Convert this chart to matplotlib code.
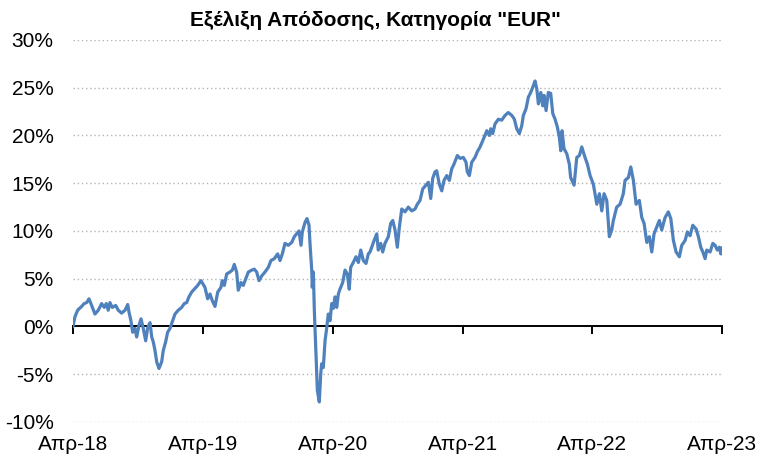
import matplotlib
matplotlib.use("Agg")
import matplotlib.pyplot as plt
import pandas as pd

# months since start of Apr-2018, return in %
months = [0.00, 0.18, 0.43, 0.80, 1.04, 1.27, 1.48, 1.73, 2.03, 2.34, 2.65, 2.89, 3.08, 3.26, 3.42,
          3.63, 3.95, 4.19, 4.50, 4.81, 5.06, 5.18, 5.36, 5.52, 5.73, 5.89, 6.10, 6.29, 6.50, 6.72,
          6.91, 7.12, 7.28, 7.42, 7.58, 7.74, 7.95, 8.20, 8.35, 8.57, 8.75, 8.97, 9.18, 9.43, 9.73,
          10.05, 10.29, 10.51, 10.72, 10.97, 11.21, 11.53, 11.83, 12.20, 12.45, 12.67, 12.88, 13.13,
          13.38, 13.68, 13.80, 13.99, 14.21, 14.51, 14.73, 14.91, 15.13, 15.28, 15.53, 15.74, 15.97,
          16.21, 16.52, 16.76, 16.98, 17.20, 17.45, 17.75, 18.06, 18.30, 18.61, 18.92, 19.14, 19.35,
          19.60, 19.90, 20.22, 20.46, 20.68, 20.89, 21.08, 21.20, 21.45, 21.63, 21.82, 21.91, 22.07,
          22.12, 22.22, 22.31, 22.40, 22.46, 22.59, 22.77, 22.90, 22.99, 23.14, 23.30, 23.46, 23.60,
          23.76, 23.92, 24.07, 24.22, 24.38, 24.53, 24.68, 24.93, 25.15, 25.36, 25.54, 25.67, 25.91,
          26.16, 26.38, 26.60, 26.84, 27.09, 27.30, 27.46, 27.83, 28.08, 28.22, 28.45, 28.63, 28.84,
          29.15, 29.37, 29.56, 29.77, 29.98, 30.17, 30.39, 30.69, 31.00, 31.31, 31.62, 31.83, 32.08,
          32.33, 32.63, 32.85, 33.07, 33.25, 33.47, 33.62, 33.86, 34.09, 34.30, 34.55, 34.79, 35.01,
          35.22, 35.53, 35.78, 36.08, 36.33, 36.45, 36.64, 36.86, 37.16, 37.38, 37.63, 37.93, 38.25,
          38.49, 38.62, 38.80, 39.01, 39.32, 39.63, 39.94, 40.24, 40.56, 40.80, 41.02, 41.26, 41.48,
          41.63, 41.88, 42.09, 42.31, 42.55, 42.71, 42.87, 43.02, 43.24, 43.42, 43.54, 43.73, 43.94,
          44.16, 44.35, 44.56, 44.77, 44.96, 45.09, 45.21, 45.39, 45.64, 45.88, 46.00, 46.32, 46.57,
          46.81, 47.03, 47.33, 47.55, 47.80, 48.10, 48.42, 48.66, 48.88, 49.09, 49.34, 49.58, 49.80,
          49.95, 50.26, 50.57, 50.87, 51.03, 51.34, 51.56, 51.80, 52.05, 52.35, 52.58, 52.79, 53.04,
          53.28, 53.50, 53.71, 53.96, 54.20, 54.42, 54.73, 55.03, 55.26, 55.50, 55.75, 56.05, 56.27,
          56.58, 56.79, 57.04, 57.29, 57.60, 57.81, 58.03, 58.22, 58.43, 58.58, 58.89, 59.14, 59.35,
          59.56, 59.75, 59.88, 60.00]
returns = [0.0, 1.0, 1.7, 2.1, 2.4, 2.5, 2.9, 2.2, 1.3, 1.7, 2.4, 2.0, 2.4, 1.7, 2.5,
           2.0, 2.2, 1.7, 1.4, 1.7, 2.3, 1.5, 0.6, -0.6, -0.2, -1.1, 0.1, 0.8, -0.2, -1.5,
           -0.1, 0.4, -1.1, -1.6, -2.5, -3.7, -4.4, -3.7, -2.5, -1.6, -0.6, -0.2, 0.5, 1.3, 1.7,
           2.0, 2.4, 2.5, 3.1, 3.6, 3.9, 4.3, 4.8, 4.1, 2.9, 3.4, 2.7, 2.1,
           3.6, 4.1, 4.8, 4.3, 5.5, 5.7, 5.9, 6.5, 5.7, 3.8, 4.6, 4.3, 5.0,
           5.7, 5.9, 6.0, 5.7, 4.8, 5.3, 5.7, 6.2, 6.9, 7.1, 7.6, 6.9, 7.6,
           8.7, 8.5, 8.8, 9.4, 9.7, 10.0, 8.5, 9.9, 10.9, 11.3, 10.6, 8.7, 5.9,
           4.1, 5.7, 1.7, -1.0, -2.9, -6.7, -7.9, -5.0, -3.9, -4.3, -1.5, -0.1, 1.3,
           0.6, 2.4, 1.9, 3.1, 2.0, 3.4, 3.9, 4.6, 5.9, 5.5, 3.9, 6.2, 6.7,
           7.3, 6.7, 8.0, 6.9, 6.6, 7.6, 7.8, 9.0, 9.7, 8.0, 8.7, 7.8, 8.7,
           9.4, 10.8, 11.1, 10.1, 8.3, 10.4, 12.3, 12.0, 12.5, 12.1, 12.3, 12.8, 13.2,
           14.4, 14.8, 15.1, 13.4, 15.5, 16.2, 16.3, 14.9, 14.2, 15.3, 15.8, 15.3, 16.5,
           17.0, 17.9, 17.6, 17.7, 17.2, 16.2, 15.8, 17.2, 17.7, 18.3, 18.8, 19.6, 20.5,
           20.0, 20.7, 20.2, 21.2, 21.7, 21.6, 22.1, 22.4, 22.1, 21.7, 20.7, 20.2, 21.0,
           22.1, 22.8, 24.0, 24.5, 25.2, 25.7, 24.9, 23.3, 24.5, 23.1, 24.2, 22.6, 24.5,
           24.4, 22.3, 21.7, 20.9, 19.8, 18.4, 20.5, 18.6, 18.1, 17.0, 15.6, 14.8, 17.7,
           17.9, 18.8, 17.7, 17.0, 15.8, 14.9, 12.8, 13.9, 12.1, 13.9, 13.2, 9.4, 10.1,
           11.1, 12.5, 12.8, 13.9, 15.3, 15.6, 16.7, 15.3, 12.8, 13.2, 11.4, 10.8, 8.8,
           9.4, 7.8, 9.7, 10.4, 11.1, 10.1, 11.4, 12.0, 11.3, 9.0, 7.8, 7.3, 8.5,
           9.0, 9.9, 9.5, 10.6, 10.2, 9.4, 8.3, 7.8, 7.1, 8.0, 7.8, 8.7, 8.5,
           8.0, 8.3, 7.6, 8.2]

tick_labels = ["Απρ-18", "Απρ-19", "Απρ-20", "Απρ-21", "Απρ-22", "Απρ-23"]
y_ticks = [-10, -5, 0, 5, 10, 15, 20, 25, 30]

plt.rcParams["font.family"] = ["Liberation Sans", "DejaVu Sans"]

start = pd.Timestamp("2018-04-01")
dates = [start + pd.Timedelta(days=m * 30.4375) for m in months]
tick_dates = pd.date_range(start, periods=len(tick_labels), freq="12MS")

fig = plt.figure(figsize=(7.6, 4.57), dpi=100)
ax = fig.add_axes([0.096, 0.0766, 0.854, 0.836])

ax.plot(dates, returns, color="#4F81BD", linewidth=2.3, solid_joinstyle="round")

ax.set_xlim(tick_dates[0], tick_dates[-1])
ax.set_ylim(-10, 30)
ax.set_yticks(y_ticks)
ax.set_yticklabels([f"{v}%" for v in y_ticks])
ax.set_xticks(tick_dates)
ax.set_xticklabels(tick_labels)

for v in y_ticks:
    if v != 0:
        ax.axhline(v, color="#B4B4B4", linewidth=1.0, linestyle=(0, (1, 2)), zorder=0)

for s in ["top", "right", "left"]:
    ax.spines[s].set_visible(False)
ax.spines["bottom"].set_position(("data", 0))
ax.spines["bottom"].set_linewidth(1.4)
ax.spines["bottom"].set_zorder(1)

ax.tick_params(axis="y", length=0, pad=14, labelsize=15)
ax.tick_params(axis="x", direction="out", length=6, width=1.4, pad=72, labelsize=15)

fig.text(0.4935, 0.955, 'Εξέλιξη Απόδοσης, Κατηγορία "EUR"', ha="center", va="center",
         fontsize=15, fontweight="bold")

fig.savefig("out.png", dpi=100)
